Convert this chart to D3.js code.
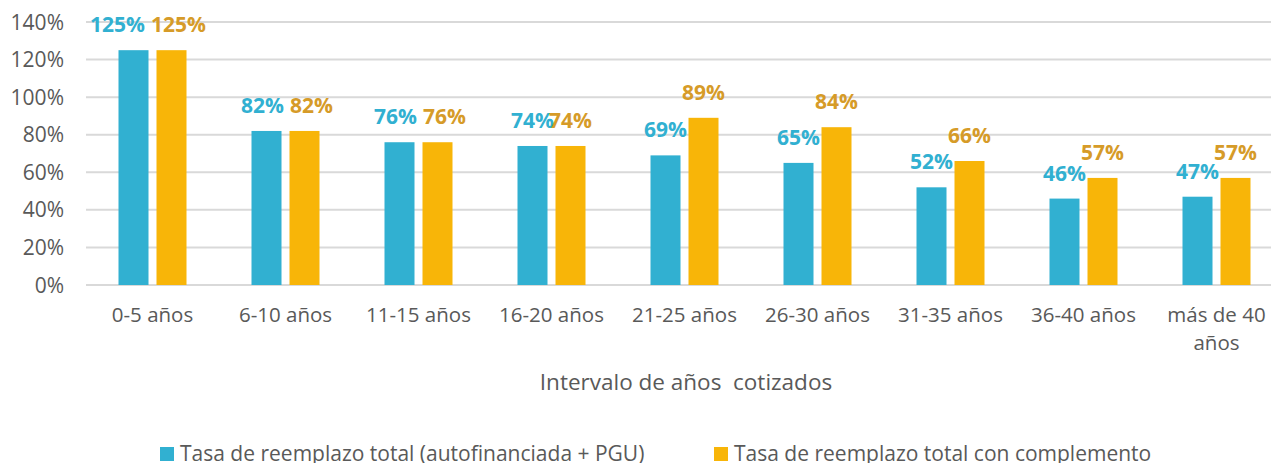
<!DOCTYPE html>
<html>
<head>
<meta charset="utf-8">
<script src="https://cdn.jsdelivr.net/npm/d3@7"></script>
<style>
  body { margin: 0; background: #fff; overflow: hidden; }
  text { font-family: "Open Sans", sans-serif; }
</style>
</head>
<body>
<script>
// datos
var categorias = ["0-5 años", "6-10 años", "11-15 años", "16-20 años", "21-25 años",
                  "26-30 años", "31-35 años", "36-40 años", "más de 40 años"];
var tasaPGU = [125, 82, 76, 74, 69, 65, 52, 46, 47];
var tasaComplemento = [125, 82, 76, 74, 89, 84, 66, 57, 57];
var nombresSeries = ["Tasa de reemplazo total (autofinanciada + PGU)",
                     "Tasa de reemplazo total con complemento"];
var ticksY = [0, 20, 40, 60, 80, 100, 120, 140];

var ancho = 1271, alto = 463;
var margenes = {top: 22, left: 86, bottom: 178};
var colores = ["#31B0D1", "#F8B508"];
var coloresEtiqueta = ["#31B0D1", "#D69B28"];

var svg = d3.select("body").append("svg")
  .attr("width", ancho)
  .attr("height", alto);

var x = d3.scaleBand()
  .domain(categorias)
  .range([margenes.left, margenes.left + 133 * categorias.length]);

var y = d3.scaleLinear()
  .domain([0, 140])
  .range([alto - margenes.bottom, margenes.top]);

// grilla
svg.append("g")
  .selectAll("line")
  .data(ticksY)
  .enter()
  .append("line")
  .attr("x1", margenes.left)
  .attr("x2", ancho)
  .attr("y1", function (d) { return y(d); })
  .attr("y2", function (d) { return y(d); })
  .style("stroke", "#D9D9D9")
  .style("stroke-width", 2);

// eje y
svg.append("g")
  .selectAll("text")
  .data(ticksY)
  .enter()
  .append("text")
  .attr("x", 64)
  .attr("y", function (d) { return y(d) + 7.5; })
  .attr("text-anchor", "end")
  .style("font-size", "21px")
  .style("fill", "#595959")
  .text(function (d) { return d + "%"; });

// barras
var series = [tasaPGU, tasaComplemento];
var anchoBarra = 30, hueco = 8;
var etiquetas = [];
series.forEach(function (valores, s) {
  var g = svg.append("g");
  var desplaz = s === 0 ? -hueco / 2 - anchoBarra : hueco / 2;
  g.selectAll("rect")
    .data(valores)
    .enter()
    .append("rect")
    .attr("x", function (d, i) { return x(categorias[i]) + x.bandwidth() / 2 + desplaz; })
    .attr("y", function (d) { return y(d); })
    .attr("width", anchoBarra)
    .attr("height", function (d) { return y(0) - y(d); })
    .style("fill", colores[s]);

  etiquetas.push(g.selectAll("text")
    .data(valores)
    .enter()
    .append("text")
    .attr("x", function (d, i) {
      var c = x(categorias[i]) + x.bandwidth() / 2;
      return s === 0 ? c - 19 : c + 19;
    })
    .attr("y", function (d) { return y(d) - 18; })
    .attr("text-anchor", "middle")
    .style("font-size", "21px")
    .style("font-weight", "bold")
    .style("fill", coloresEtiqueta[s])
    .text(function (d) { return d + "%"; }));
});

// separar etiquetas que chocan (como hace Excel)
var nodosA = etiquetas[0].nodes(), nodosB = etiquetas[1].nodes();
categorias.forEach(function (c, i) {
  if (Math.abs(tasaPGU[i] - tasaComplemento[i]) > 3 || tasaPGU[i] === 74) return;
  var centro = x(c) + x.bandwidth() / 2;
  var a = nodosA[i], b = nodosB[i];
  var wa = a.getComputedTextLength(), wb = b.getComputedTextLength();
  var bx = centro + 26;
  d3.select(b).attr("x", bx);
  var bordeIzq = bx - wb / 2;
  var ax = Math.min(centro - 19, bordeIzq - 6 - wa / 2);
  d3.select(a).attr("x", ax);
});

// etiquetas eje x
var etiq = svg.append("g")
  .selectAll("text")
  .data(categorias)
  .enter()
  .append("text")
  .attr("x", function (d) { return x(d) + x.bandwidth() / 2; })
  .attr("y", 322)
  .attr("text-anchor", "middle")
  .style("font-size", "20.5px")
  .style("fill", "#595959");

etiq.each(function (d) {
  var t = d3.select(this);
  if (d === "más de 40 años") {
    t.append("tspan").attr("x", x(d) + x.bandwidth() / 2).text("más de 40");
    t.append("tspan").attr("x", x(d) + x.bandwidth() / 2).attr("dy", 28).text("años");
  } else {
    t.text(d);
  }
});

// titulo eje x
svg.append("text")
  .attr("x", 686)
  .attr("y", 390)
  .attr("text-anchor", "middle")
  .style("font-size", "22.5px")
  .style("fill", "#595959")
  .style("white-space", "pre")
  .attr("xml:space", "preserve")
  .text("Intervalo de años  cotizados");

// leyenda
var posLeyenda = [160, 714];
var leyenda = svg.append("g")
  .selectAll("g")
  .data(nombresSeries)
  .enter()
  .append("g")
  .attr("transform", function (d, i) { return "translate(" + posLeyenda[i] + ",0)"; });

leyenda.append("rect")
  .attr("x", 0)
  .attr("y", 447)
  .attr("width", 14)
  .attr("height", 14)
  .style("fill", function (d, i) { return colores[i]; });

leyenda.append("text")
  .attr("x", 20)
  .attr("y", 461)
  .style("font-size", "21px")
  .style("fill", "#595959")
  .text(function (d) { return d; });
</script>
</body>
</html>
